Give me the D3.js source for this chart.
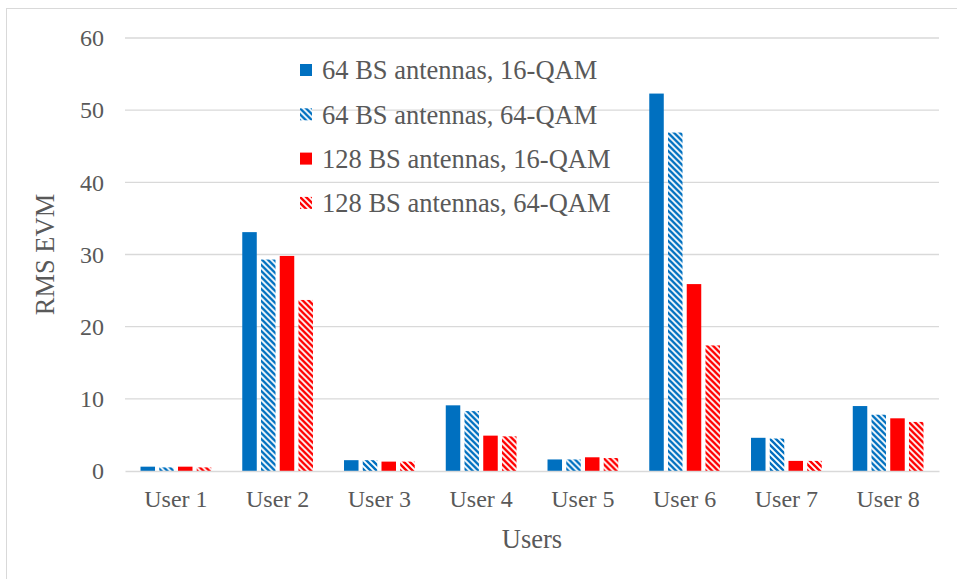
<!DOCTYPE html>
<html>
<head>
<meta charset="utf-8">
<script src="https://cdn.jsdelivr.net/npm/d3@7"></script>
<style>
  html, body { margin: 0; padding: 0; background: #ffffff; }
  svg { display: block; }
</style>
</head>
<body>
<svg id="chart" width="957" height="579"></svg>
<script>
// Categories, series and ticks
const users = ["User 1", "User 2", "User 3", "User 4", "User 5", "User 6", "User 7", "User 8"];
const seriesNames = ["64 BS antennas, 16-QAM", "64 BS antennas, 64-QAM", "128 BS antennas, 16-QAM", "128 BS antennas, 64-QAM"];
const bs64qam16 = [0.6, 33.1, 1.5, 9.1, 1.6, 52.3, 4.6, 9.0];
const bs64qam64 = [0.5, 29.3, 1.5, 8.3, 1.6, 46.9, 4.5, 7.8];
const bs128qam16 = [0.6, 29.8, 1.3, 4.9, 1.9, 25.9, 1.4, 7.3];
const bs128qam64 = [0.5, 23.7, 1.3, 4.8, 1.8, 17.4, 1.4, 6.8];
const yTicks = [0, 10, 20, 30, 40, 50, 60];

const seriesValues = [bs64qam16, bs64qam64, bs128qam16, bs128qam64];
const seriesColor = ["#0070C0", "#0070C0", "#FF0000", "#FF0000"];
const seriesHatched = [false, true, false, true];

const svg = d3.select("#chart");
const font = "'Liberation Serif', 'Times New Roman', serif";
const textColor = "#595959";

// Outer chart frame
svg.append("rect")
  .attr("x", 6.5).attr("y", 8.5)
  .attr("width", 960).attr("height", 600)
  .attr("fill", "none").attr("stroke", "#d9d9d9").attr("stroke-width", 1);

// Diagonal hatch patterns
const defs = svg.append("defs");
function hatch(id, color) {
  const p = defs.append("pattern")
    .attr("id", id)
    .attr("patternUnits", "userSpaceOnUse")
    .attr("width", 6).attr("height", 6);
  p.append("rect").attr("width", 6).attr("height", 6).attr("fill", "#ffffff");
  p.append("path")
    .attr("d", "M-1,-1 L7,7 M-4,2 L4,10 M2,-4 L10,4")
    .attr("stroke", color).attr("stroke-width", 2.4);
}
hatch("hatchBlue", "#0070C0");
hatch("hatchRed", "#FF0000");
const fillFor = i => seriesHatched[i] ? (seriesColor[i] === "#0070C0" ? "url(#hatchBlue)" : "url(#hatchRed)") : seriesColor[i];

const plot = { left: 125, right: 939, top: 38, bottom: 471 };

const y = d3.scaleLinear().domain([0, 60]).range([plot.bottom, plot.top]);
const x0 = d3.scaleBand().domain(users)
  .range([plot.left, plot.right])
  .paddingInner(0.305).paddingOuter(0.1525);
const x1 = d3.scaleBand().domain(d3.range(seriesNames.length))
  .range([0, x0.bandwidth()])
  .paddingInner(0.226).paddingOuter(0);

// Gridlines
svg.append("g")
  .selectAll("line")
  .data(yTicks.filter(t => t > 0))
  .join("line")
  .attr("x1", plot.left).attr("x2", plot.right)
  .attr("y1", d => y(d)).attr("y2", d => y(d))
  .attr("stroke", "#d9d9d9").attr("stroke-width", 1.3);

// Y axis labels
const yAxis = svg.append("g")
  .attr("transform", `translate(${plot.left},0)`)
  .call(d3.axisLeft(y).tickValues(yTicks).tickSize(0).tickPadding(21));
yAxis.select(".domain").remove();
yAxis.selectAll("text")
  .attr("font-family", font).attr("font-size", 24).attr("fill", textColor);

// Bars
const groups = svg.append("g")
  .selectAll("g")
  .data(users)
  .join("g")
  .attr("transform", d => `translate(${x0(d)},0)`);

groups.selectAll("rect")
  .data((u, ui) => seriesValues.map((vals, si) => ({ si, v: vals[ui] })))
  .join("rect")
  .attr("x", d => x1(d.si))
  .attr("width", x1.bandwidth())
  .attr("y", d => y(d.v))
  .attr("height", d => y(0) - y(d.v))
  .attr("fill", d => fillFor(d.si));

// Category axis
const xAxis = svg.append("g")
  .attr("transform", `translate(0,${plot.bottom})`)
  .call(d3.axisBottom(x0).tickSize(0).tickPadding(19));
xAxis.select(".domain").attr("stroke", "#d9d9d9").attr("stroke-width", 1.3);
xAxis.selectAll("text")
  .attr("font-family", font).attr("font-size", 24).attr("fill", textColor);

// Axis titles
svg.append("text")
  .attr("x", (plot.left + plot.right) / 2).attr("y", 548)
  .attr("text-anchor", "middle")
  .attr("font-family", font).attr("font-size", 26.5).attr("fill", textColor)
  .text("Users");

svg.append("text")
  .attr("transform", `translate(54,${(plot.top + plot.bottom) / 2}) rotate(-90)`)
  .attr("text-anchor", "middle")
  .attr("font-family", font).attr("font-size", 26.5).attr("fill", textColor)
  .text("RMS EVM");

// Legend
const legend = svg.append("g").attr("transform", "translate(300,70)");
const rows = legend.selectAll("g")
  .data(seriesNames)
  .join("g")
  .attr("transform", (d, i) => `translate(0,${i * 44.3})`);
rows.append("rect")
  .attr("x", 0).attr("y", -6).attr("width", 12).attr("height", 12)
  .attr("fill", (d, i) => fillFor(i));
rows.append("text")
  .attr("x", 22).attr("y", 0).attr("dy", "0.35em")
  .attr("font-family", font).attr("font-size", 26.5).attr("fill", textColor)
  .text(d => d);
</script>
</body>
</html>
